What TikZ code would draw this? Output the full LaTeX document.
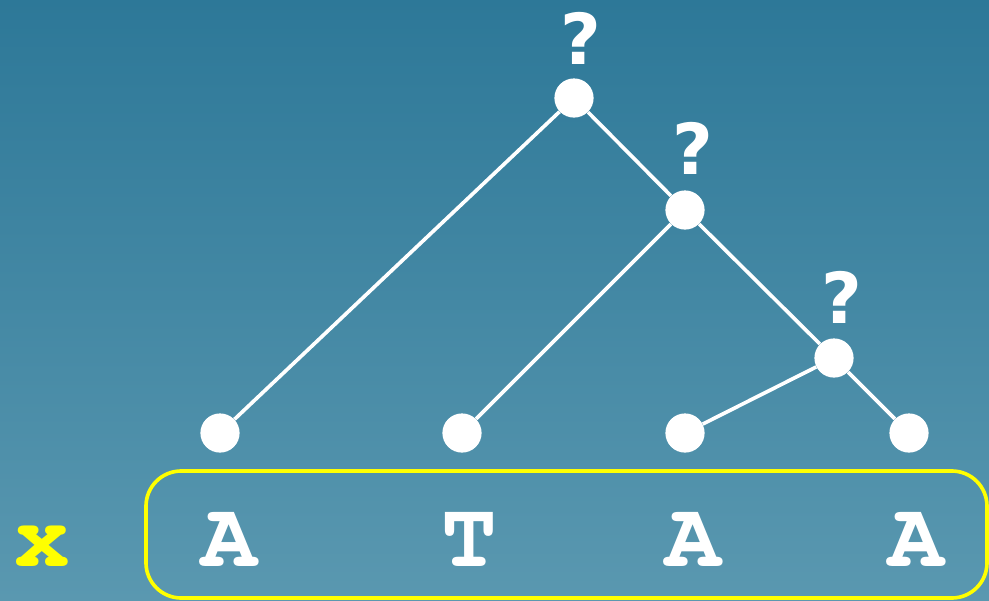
\documentclass[tikz,border=0pt]{standalone}
\usepackage{fontspec}
\newfontfamily\qfont{DejaVu Sans}
\newfontfamily\cour{TeX Gyre Cursor}
\definecolor{bgtop}{RGB}{45,120,152}
\definecolor{bgbot}{RGB}{90,152,176}
\definecolor{hl}{RGB}{255,255,0}
\begin{document}
\begin{tikzpicture}[x=0.025cm,y=-0.025cm,
  dot/.style={circle,fill=white,draw=none,minimum size=0.98cm,inner sep=0pt},
  edge/.style={draw=white,line width=2.6pt},
  qm/.style={text=white,font=\qfont\bfseries\fontsize{50}{50}\selectfont,inner sep=0pt},
  base/.style={text=white,font=\cour\bfseries\fontsize{66}{66}\selectfont,inner sep=0pt,anchor=base}]
\useasboundingbox (0,0) rectangle (989,600);
\shade[top color=bgtop,bottom color=bgbot] (0,0) rectangle (989,600);
\node[dot] (r) at (574,98) {};
\node[dot] (n2) at (685,210) {};
\node[dot] (n3) at (834,358) {};
\node[dot] (l1) at (220,433) {};
\node[dot] (l2) at (462,433) {};
\node[dot] (l3) at (685,433) {};
\node[dot] (l4) at (909,433) {};
\draw[edge] (r) -- (l1);
\draw[edge] (r) -- (n2);
\draw[edge] (n2) -- (l2);
\draw[edge] (n2) -- (n3);
\draw[edge] (n3) -- (l3);
\draw[edge] (n3) -- (l4);
\node[qm] (q1) at (581,38) {?};
\node[qm] (q2) at (693,148) {?};
\node[qm] (q3) at (842,297) {?};
\draw[draw=hl,line width=2.6pt,rounded corners=25] (146,471) rectangle (987,598);
\node[base] (a1) at (229,566) {A};
\node[base] (t2) at (469,566) {T};
\node[base] (a3) at (693,566) {A};
\node[base] (a4) at (916,566) {A};
\node[base,text=hl] (x) at (42,566) {x};
\end{tikzpicture}
\end{document}
